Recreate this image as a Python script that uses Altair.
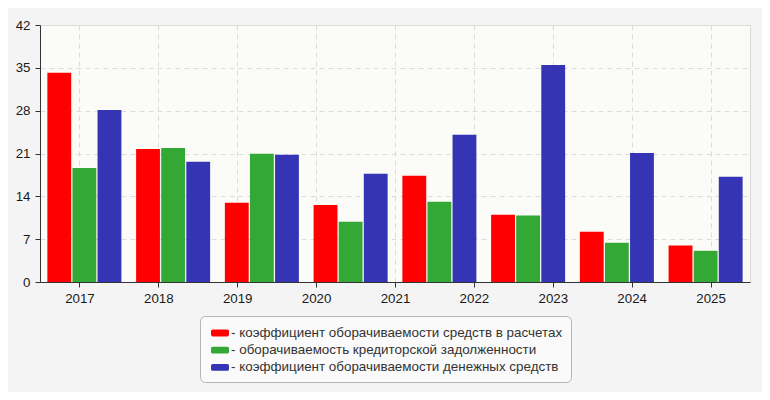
import altair as alt
import pandas as pd

# --- data ---
periods = ["1", "2", "3", "4", "5", "6", "7", "8"]
year_labels = ["2017", "2018", "2019", "2020", "2021", "2022", "2023", "2024", "2025"]
series = [
    "коэффициент оборачиваемости средств в расчетах",
    "оборачиваемость кредиторской задолженности",
    "коэффициент оборачиваемости денежных средств",
]
colors = ["#ff0000", "#34a834", "#3434b4"]
receivables_turnover = [34.2, 21.75, 12.95, 12.6, 17.35, 11.0, 8.2, 5.95]
payables_turnover = [18.65, 21.9, 20.95, 9.85, 13.1, 10.85, 6.4, 5.1]
cash_turnover = [28.1, 19.65, 20.8, 17.7, 24.05, 35.45, 21.1, 17.2]
y_ticks = [0, 7, 14, 21, 28, 35, 42]

rows = []
for vals, name in zip([receivables_turnover, payables_turnover, cash_turnover], series):
    for p, v in zip(periods, vals):
        rows.append({"period": p, "series": name, "value": v})
df = pd.DataFrame(rows)
years_df = pd.DataFrame({"year": year_labels})

FONT = "Liberation Sans"
legend_shape = ("M-0.8,-0.38 H0.8 A0.2,0.2 0 0 1 1,-0.18 V0.18 A0.2,0.2 0 0 1 0.8,0.38 "
                "H-0.8 A0.2,0.2 0 0 1 -1,0.18 V-0.18 A0.2,0.2 0 0 1 -0.8,-0.38 Z")

bars = alt.Chart(df).mark_bar().encode(
    x=alt.X("period:N", sort=periods, axis=None,
            scale=alt.Scale(paddingInner=0.166, paddingOuter=0.083)),
    xOffset=alt.XOffset("series:N", sort=series,
                        scale=alt.Scale(paddingInner=0.05, paddingOuter=0)),
    y=alt.Y("value:Q",
            scale=alt.Scale(domain=[0, 42], nice=False),
            axis=alt.Axis(values=y_ticks, title=None, grid=True,
                          gridDash=[5, 4], gridColor="#dcdcdc",
                          domainColor="#333333", tickColor="#333333",
                          tickSize=5, labelPadding=5,
                          labelFont=FONT, labelFontSize=13.3, labelColor="#1a1a1a")),
    color=alt.Color("series:N", sort=series,
                    scale=alt.Scale(domain=series, range=colors),
                    legend=alt.Legend(title=None, orient="none",
                                      legendX=160, legendY=291,
                                      direction="vertical",
                                      fillColor="#fafafa", strokeColor="#b5b5b5",
                                      cornerRadius=5, padding=8,
                                      symbolType=legend_shape, symbolSize=324,
                                      symbolOffset=3, symbolStrokeWidth=0,
                                      labelOffset=2, labelLimit=500,
                                      labelFont=FONT, labelFontSize=13.4,
                                      labelColor="#333333", rowPadding=1.2,
                                      labelExpr="'- ' + datum.label")),
)

year_axis = alt.Chart(years_df).mark_point(opacity=0).encode(
    x=alt.X("year:O", sort=year_labels,
            scale=alt.Scale(type="point", padding=0.5),
            axis=alt.Axis(title=None, labelAngle=0, grid=True,
                          gridDash=[5, 4], gridColor="#dcdcdc",
                          domainColor="#333333", tickColor="#333333",
                          tickSize=5, labelPadding=4,
                          labelFont=FONT, labelFontSize=13.3, labelColor="#1a1a1a")),
    y=alt.value(0),
)

chart = (
    alt.layer(year_axis, bars)
    .resolve_scale(x="independent")
    .properties(
        width=710, height=257,
        autosize=alt.AutoSizeParams(type="none"),
        padding={"left": 32, "top": 17, "right": 12, "bottom": 110},
        background="#f4f4f4",
    )
    .configure_view(fill="#fbfbf7", stroke="#d8d8d8", strokeWidth=1)
)

chart.save("out.html", embed_options={"renderer": "svg", "actions": False})
